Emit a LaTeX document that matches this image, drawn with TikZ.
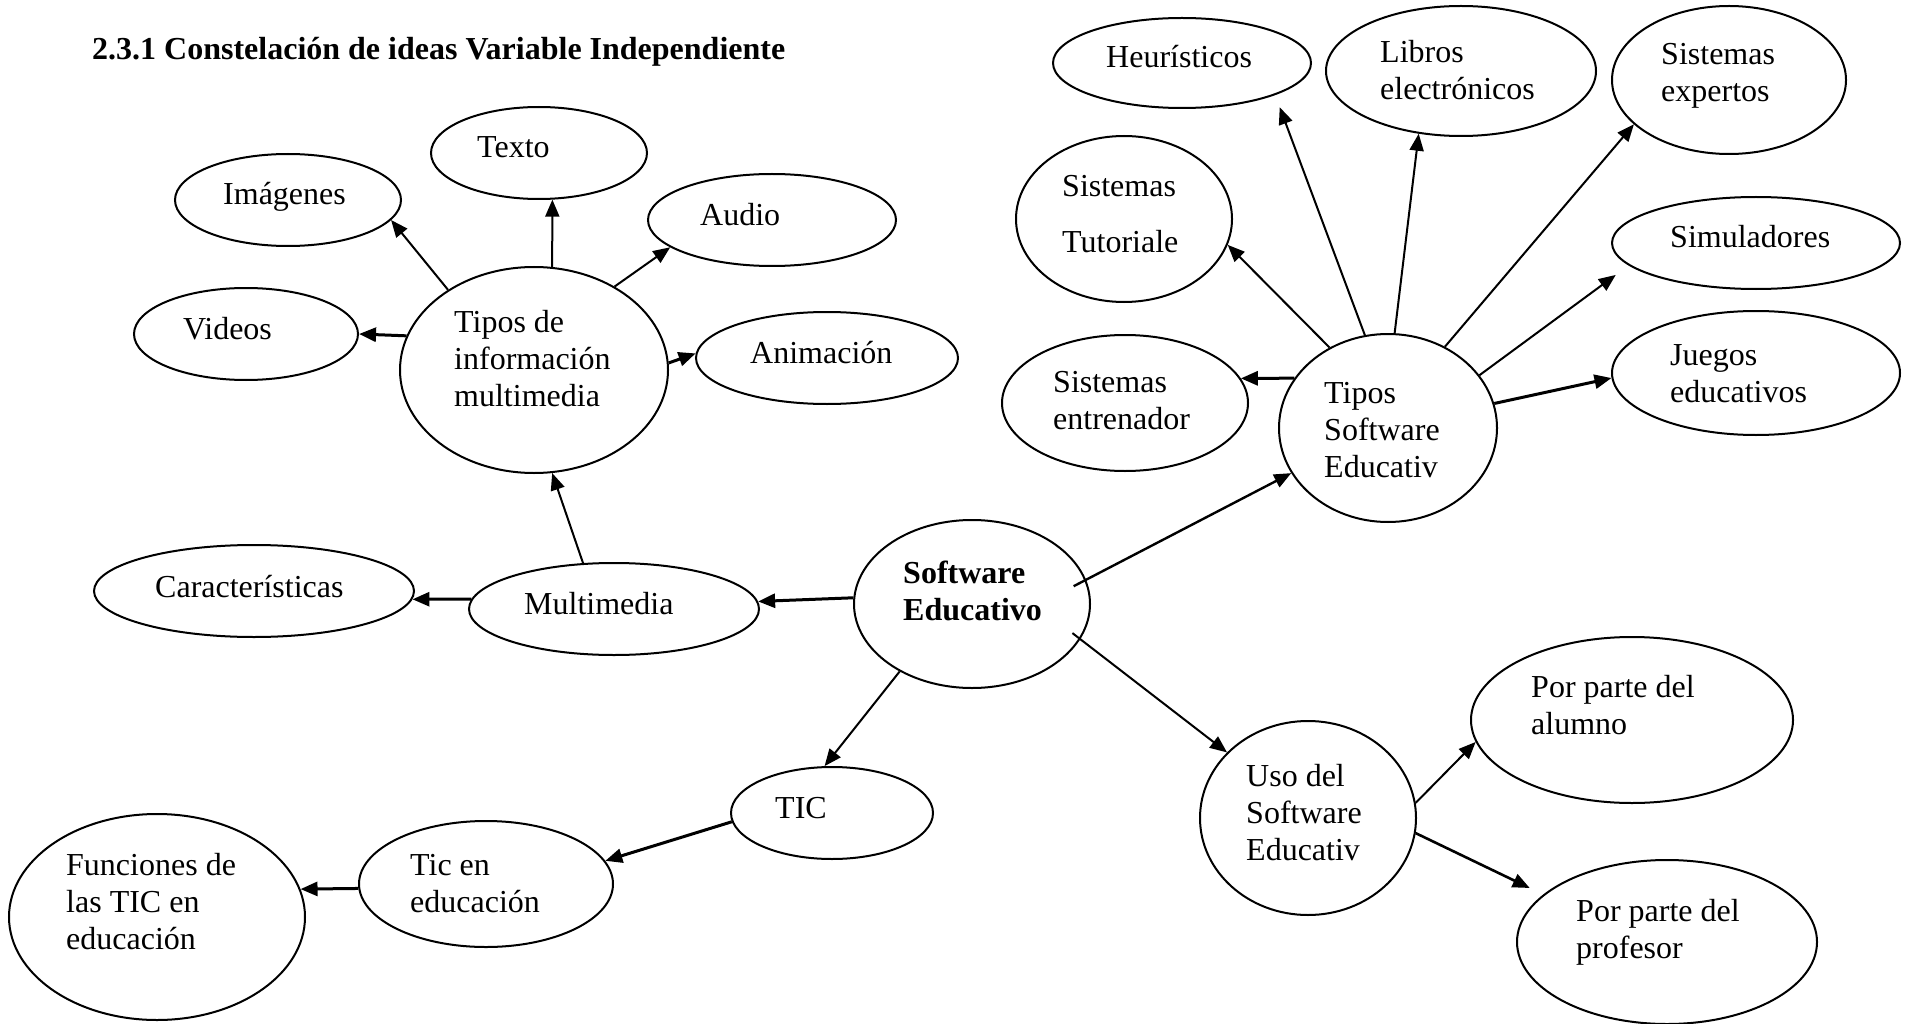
\documentclass[tikz,border=0pt]{standalone}
\usepackage{fontspec}
\setmainfont{Liberation Serif}
\usetikzlibrary{arrows.meta,shapes.geometric}
% left-aligned multi-line label, baseline at the first line
\newcommand\lines[1]{\begin{tabular}[t]{@{}l@{}}#1\end{tabular}}

\begin{document}
\begin{tikzpicture}[x=1pt,y=-1pt,
  bubble/.style={draw, line width=2pt, ellipse, inner sep=0pt},
  words/.style={anchor=base west, inner sep=0pt, font=\fontsize{32}{37}\selectfont},
  boldwords/.style={words, font=\bfseries\fontsize{32}{37}\selectfont},
  link/.style={line width=2pt, -{Triangle[length=17pt,width=14pt]}},
  heavylink/.style={link, line width=3pt},
]
\fill[white] (0,0) rectangle (1905,1024);
\useasboundingbox (0,0) rectangle (1905,1024);

% title
\node[boldwords] (title) at (92,60) {2.3.1 Constelación de ideas Variable Independiente};

% ---- bubbles ----
\node[bubble, minimum width=258pt, minimum height=90pt]  (heur)     at (1182,63)  {};
\node[bubble, minimum width=270pt, minimum height=130pt] (libros)   at (1461,71)  {};
\node[bubble, minimum width=234pt, minimum height=148pt] (expertos) at (1729,80)  {};
\node[bubble, minimum width=216pt, minimum height=166pt] (tutor)    at (1124,219) {};
\node[bubble, minimum width=288pt, minimum height=92pt]  (simul)    at (1756,243) {};
\node[bubble, minimum width=246pt, minimum height=136pt] (entren)   at (1125,403) {};
\node[bubble, minimum width=218pt, minimum height=188pt] (tse)      at (1388,428) {};
\node[bubble, minimum width=288pt, minimum height=124pt] (juegos)   at (1756,373) {};

\node[bubble, minimum width=226pt, minimum height=92pt]  (imag)     at (288,200)  {};
\node[bubble, minimum width=216pt, minimum height=92pt]  (texto)    at (539,153)  {};
\node[bubble, minimum width=248pt, minimum height=92pt]  (audio)    at (772,220)  {};
\node[bubble, minimum width=224pt, minimum height=92pt]  (videos)   at (246,334)  {};
\node[bubble, minimum width=268pt, minimum height=206pt] (tinfo)    at (534,370)  {};
\node[bubble, minimum width=262pt, minimum height=92pt]  (anim)     at (827,358)  {};

\node[bubble, minimum width=320pt, minimum height=92pt]  (caract)   at (254,591)  {};
\node[bubble, minimum width=290pt, minimum height=92pt]  (multi)    at (614,609)  {};
\node[bubble, minimum width=236pt, minimum height=168pt] (se)       at (972,604)  {};
\node[bubble, minimum width=202pt, minimum height=92pt]  (tic)      at (832,813)  {};
\node[bubble, minimum width=254pt, minimum height=126pt] (ticedu)   at (486,884)  {};
\node[bubble, minimum width=296pt, minimum height=206pt] (func)     at (157,917)  {};

\node[bubble, minimum width=216pt, minimum height=194pt] (uso)      at (1308,818) {};
\node[bubble, minimum width=322pt, minimum height=166pt] (alumno)   at (1632,720) {};
\node[bubble, minimum width=300pt, minimum height=164pt] (prof)     at (1667,942) {};

% ---- texts ----
\node[words] (t-heur)     at (1106,68)  {Heurísticos};
\node[words] (t-libros)   at (1380,63)  {\lines{Libros\\electrónicos}};
\node[words] (t-expertos) at (1661,65)  {\lines{Sistemas\\expertos}};
\node[words] (t-tutor)    at (1062,197) {\lines{Sistemas\\[19pt]Tutoriale}};
\node[words] (t-simul)    at (1670,248) {Simuladores};
\node[words] (t-entren)   at (1053,392) {\lines{Sistemas\\entrenador}};
\node[words] (t-tse)      at (1324,403) {\lines{Tipos\\Software\\Educativ}};
\node[words] (t-juegos)   at (1670,365) {\lines{Juegos\\educativos}};

\node[words] (t-imag)     at (223,205)  {Imágenes};
\node[words] (t-texto)    at (477,158)  {Texto};
\node[words] (t-audio)    at (700,226)  {Audio};
\node[words] (t-videos)   at (183,339)  {Videos};
\node[words] (t-tinfo)    at (454,332)  {\lines{Tipos de\\información\\multimedia}};
\node[words] (t-anim)     at (750,363)  {Animación};

\node[words] (t-caract)   at (155,597)  {Características};
\node[words] (t-multi)    at (524,614)  {Multimedia};
\node[boldwords] (t-se)   at (903,583)  {\lines{Software\\Educativo}};
\node[words] (t-tic)      at (775,818)  {TIC};
\node[words] (t-ticedu)   at (410,875)  {\lines{Tic en\\educación}};
\node[words] (t-func)     at (66,875)   {\lines{Funciones de\\las TIC en\\educación}};

\node[words] (t-uso)      at (1246,786) {\lines{Uso del\\Software\\Educativ}};
\node[words] (t-alumno)   at (1531,697) {\lines{Por parte del\\alumno}};
\node[words] (t-prof)     at (1576,921) {\lines{Por parte del\\profesor}};

% ---- connectors ----
\draw[link]      (tinfo.137) -- (imag.-11);
\draw[link]      (tinfo.80)  -- (texto.-74);
\draw[link]      (tinfo.46)  -- (audio.195);
\draw[heavylink] (tinfo.165) -- (videos.0);
\draw[heavylink] (tinfo.3)   -- (anim.178);
\draw[link]      (multi.124) -- (tinfo.-80);
\draw[heavylink] (multi.176) -- (caract.-3);
\draw[heavylink] (se.177)    -- (multi.3);
\draw[link]      (se.223)    -- (tic.99);
\draw[heavylink] (tic.185)   -- (ticedu.11);
\draw[heavylink] (ticedu.182) -- (func.11);
\draw[link, line width=2.4pt, shorten <=-14pt] (se.12)  -- (tse.205);
\draw[link, shorten <=-10pt] (se.-18) -- (uso.141);
\draw[link]      (uso.8)     -- (alumno.188);
\draw[link, line width=2.6pt, shorten >=15pt] (uso.-8) -- (prof.159);
\draw[link]      (tse.126)   -- (tutor.-14);
\draw[link, shorten >=13pt] (tse.104) -- (heur.-19);
\draw[link]      (tse.86)    -- (libros.236);
\draw[link]      (tse.55)    -- (expertos.205);
\draw[link, shorten >=16pt] (tse.30) -- (simul.190);
\draw[heavylink] (tse.13)    -- (juegos.182);
\draw[heavylink] (tse.152)   -- (entren.12);
\end{tikzpicture}
\end{document}
